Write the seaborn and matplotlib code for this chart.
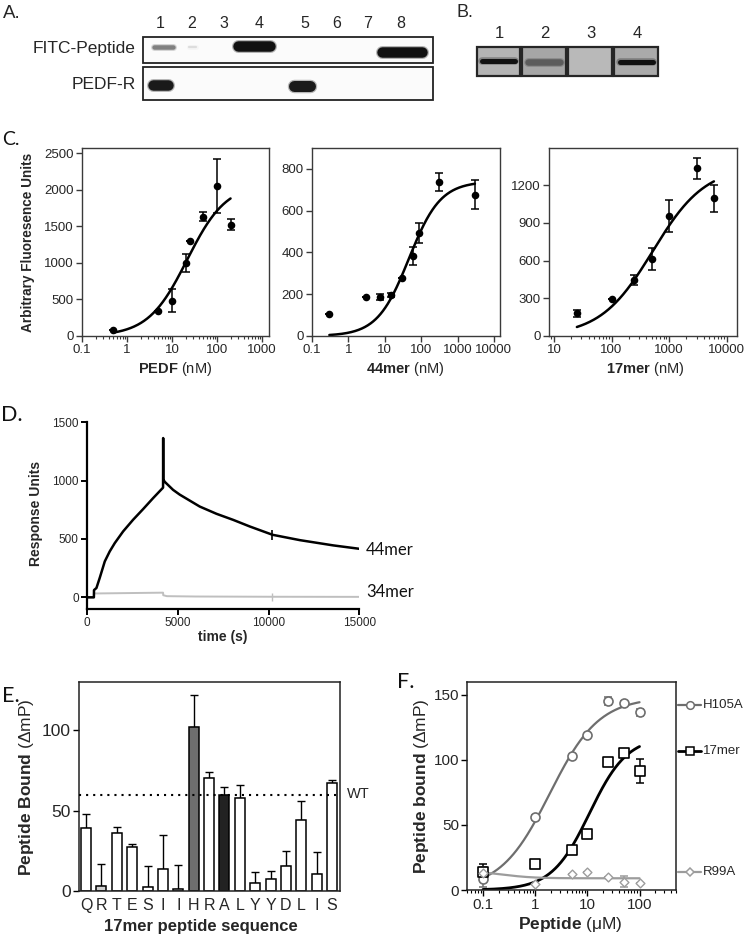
import numpy as np
import matplotlib
matplotlib.use("Agg")
import matplotlib.pyplot as plt
from matplotlib.patches import Rectangle
from matplotlib.lines import Line2D
from matplotlib.ticker import FixedLocator, LogLocator, NullFormatter, FuncFormatter
import seaborn as sns

# ------------------------------------------------------------------ data
# A / B blots
lanes_a = ["1", "2", "3", "4", "5", "6", "7", "8"]
rows_a = ["FITC-Peptide", "PEDF-R"]
lanes_b = ["1", "2", "3", "4"]

# C: binding curves (concentration nM, arbitrary fluorescence units, SEM)
pedf_conc = [0.5, 5, 10, 20, 25, 50, 100, 200]
pedf_afu = [80, 345, 485, 1000, 1295, 1630, 2050, 1520]
pedf_err = [0, 0, 155, 125, 0, 60, 370, 75]
pedf_fit = (0, 2084, 21.7, 1.0)          # bottom, top, Kd, hill

m44_conc = [0.3, 3, 7.5, 15, 30, 60, 90, 300, 3000]
m44_afu = [104, 186, 185, 197, 280, 381, 493, 736, 677]
m44_err = [0, 0, 14, 11, 0, 43, 47, 43, 69]
m44_fit = (0, 740, 46, 1.0)

m17_conc = [25, 100, 250, 500, 1000, 3000, 6000]
m17_afu = [180, 292, 445, 609, 954, 1333, 1094]
m17_err = [25, 0, 40, 88, 130, 85, 110]
m17_fit = (0, 1350, 520, 0.95)

# D: SPR sensorgram (time s, response units)
t_44mer = [0, 380, 386, 520, 700, 980, 1250, 1530, 1990, 2540, 3090, 3640, 4190,
           4196, 4202, 4283, 4742, 5110, 6210, 7130, 8050, 8970, 10220, 11730, 13570, 15000]
ru_44mer = [0, 0, 62, 80, 166, 308, 393, 465, 565, 665, 756, 850, 940,
            1365, 1010, 990, 921, 880, 778, 716, 664, 607, 536, 490, 445, 416]
t_34mer = [0, 380, 386, 4190, 4200, 4400, 6000, 10000, 15000]
ru_34mer = [0, 0, 33, 40, 18, 10, 7, 5, 4]

# E: alanine scan
seq_letters = list("QRTESIIHRALYYDLIS")
scan_vals = [39.4, 2.9, 36, 27.1, 2.1, 13.8, 1.0, 101.9, 70.4, 59.6, 57.7, 4.8, 7.3, 15.6, 44.4, 10.6, 66.9]
scan_errs = [8.5, 13.5, 4, 2, 13.5, 21, 15, 20, 3.8, 5.4, 8.5, 7, 5.2, 9.4, 11.7, 13.8, 1.9]
scan_fill = ["white", "#d0d0d0", "white", "white", "white", "white", "white", "#6e6e6e", "white",
             "#222222", "white", "white", "white", "white", "white", "white", "white"]
wt_level = 60

# F: peptide binding (uM, delta mP)
f_conc = [0.1, 1, 5, 10, 25, 50, 100]
h105a = [8.4, 55.9, 102.9, 118.7, 145.3, 143.3, 136.4]
h105a_err = [6, 2, 1, 1, 3, 2, 3]
h105a_fit = (0, 148, 1.9, 0.92)
m17b = [14, 20.3, 31, 43.2, 98.3, 105.4, 91.5]
m17b_err = [6, 1, 2, 1, 1, 2, 9.5]
m17b_fit = (0, 118, 11, 1.2)
r99a = [13, 4.6, 12, 14, 9.7, 6.4, 5.1]
r99a_err = [5, 0, 0, 0, 0, 4, 0]
r99a_fit = (14.5, 9.0, 0.25, 1.5)

# ------------------------------------------------------------------ style
sns.set_theme(style="ticks")
plt.rcParams["font.family"] = ["Liberation Sans", "DejaVu Sans"]
plt.rcParams["mathtext.fontset"] = "custom"
plt.rcParams["mathtext.rm"] = "Liberation Sans"
plt.rcParams["mathtext.bf"] = "Liberation Sans:bold"
plt.rcParams["mathtext.it"] = "Liberation Sans:italic"
plt.rcParams["mathtext.default"] = "rm"

W, H = 745, 939
fig = plt.figure(figsize=(W / 100, H / 100), dpi=100)
fig.patch.set_facecolor("white")


def px_axes(l, t, r, b, **kw):
    return fig.add_axes([l / W, 1 - b / H, (r - l) / W, (b - t) / H], **kw)


def ftext(x, y, s, **kw):
    fig.text(x / W, 1 - y / H, s, **kw)


def hill(x, bottom, top, ec50, h):
    x = np.asarray(x, dtype=float)
    return bottom + (top - bottom) / (1 + (ec50 / x) ** h)


LETTER = dict(family=["Lato", "DejaVu Sans"], color="#111111")

# ------------------------------------------------------------------ A & B (blots)
ov = fig.add_axes([0, 0, 1, 1], zorder=-5)
ov.set_xlim(0, W)
ov.set_ylim(H, 0)
ov.axis("off")


def pill(x1, x2, y, h, color, blur=0.3):
    r = h / 2
    ov.plot([x1 + r, x2 - r], [y, y], lw=(h + 2.5) * 0.72, color=color, alpha=blur,
            solid_capstyle="round")
    ov.plot([x1 + r, x2 - r], [y, y], lw=h * 0.72, color=color, solid_capstyle="round")


ftext(3, 18.5, "A.", fontsize=13.5, va="baseline", ha="left")
ov.add_patch(Rectangle((143.3, 37.3), 290, 25.4, fc="#fbfbfb", ec="#222222", lw=1.3))
ov.add_patch(Rectangle((143.3, 67.3), 290, 32.7, fc="#fbfbfb", ec="#222222", lw=1.3))
lane_x_a = [160, 192, 224, 259, 305, 337, 368, 401]
for lx, lab in zip(lane_x_a, lanes_a):
    ftext(lx, 24, lab, fontsize=11.5, ha="center", va="center")
ftext(136, 48, rows_a[0], fontsize=12.5, ha="right", va="center")
ftext(136, 84.5, rows_a[1], fontsize=12.5, ha="right", va="center")
pill(152, 175, 46.8, 4.5, "#808080")
pill(188, 197, 47, 2.2, "#dddddd", blur=0.2)
pill(213, 215, 46, 1.5, "#aaaaaa", blur=0.1)
pill(233, 275, 46, 10.5, "#111111")
pill(320, 322, 44, 1.5, "#bbbbbb", blur=0.1)
pill(377, 427, 52, 10.5, "#111111")
pill(148, 173, 85.3, 10.5, "#1a1a1a")
pill(288, 315, 85.8, 11, "#1a1a1a")

ftext(457, 17, "B.", fontsize=13, va="baseline", ha="left")
b_boxes = [(476.7, 520), (522.3, 566), (568.3, 611.7), (614, 658.3)]
b_bg = ["#b4b4b4", "#a6a6a6", "#b9b9b9", "#aaaaaa"]
for (x1, x2), bg, lab in zip(b_boxes, b_bg, lanes_b):
    ov.add_patch(Rectangle((x1, 46.7), x2 - x1, 29, fc=bg, ec="#262626", lw=1.6))
    ftext((x1 + x2) / 2 + 1, 33, lab, fontsize=12, ha="center", va="center")
pill(479, 517, 60.5, 5, "#111111")
pill(525, 563, 61.5, 6.5, "#5c5c5c", blur=0.35)
pill(617, 655, 62, 5, "#111111")

# ------------------------------------------------------------------ C
ftext(2, 145, "C.", fontsize=14, va="baseline", ha="left", **LETTER)


def fmt_g(v, p):
    return f"{v:g}"


def binding_panel(rect, conc, val, err, fit, xlim, ylim, xticks, yticks):
    ax = px_axes(*rect)
    ax.set_xscale("log")
    fx = np.logspace(np.log10(min(conc)), np.log10(max(conc)), 300)
    sns.lineplot(x=fx, y=hill(fx, *fit), ax=ax, color="black", lw=1.8, zorder=2)
    ax.errorbar(conc, val, yerr=err, fmt="none", ecolor="black", elinewidth=1.1,
                capsize=3, capthick=1.1, zorder=3)
    sns.scatterplot(x=conc, y=val, ax=ax, color="black", s=30, linewidth=0, zorder=4)
    ax.set_xlim(xlim)
    ax.set_ylim(ylim)
    ax.xaxis.set_major_locator(FixedLocator(xticks))
    ax.xaxis.set_major_formatter(FuncFormatter(fmt_g))
    ax.xaxis.set_minor_locator(LogLocator(base=10, subs=np.arange(2, 10)))
    ax.xaxis.set_minor_formatter(NullFormatter())
    ax.set_yticks(yticks)
    for s in ax.spines.values():
        s.set_color("#3a3a3a")
        s.set_linewidth(1.0)
    ax.tick_params(which="major", length=4, width=1, color="#3a3a3a", labelsize=9.5, pad=2)
    ax.tick_params(which="minor", length=2.2, width=0.8, color="#3a3a3a")
    ax.set_xlabel("")
    ax.set_ylabel("")
    return ax


binding_panel((82, 148, 269, 336), pedf_conc, pedf_afu, pedf_err, pedf_fit,
              (0.1, 1430), (0, 2570), [0.1, 1, 10, 100, 1000], [0, 500, 1000, 1500, 2000, 2500])
binding_panel((312, 148, 500, 336), m44_conc, m44_afu, m44_err, m44_fit,
              (0.1, 14700), (0, 900), [0.1, 1, 10, 100, 1000, 10000], [0, 200, 400, 600, 800])
binding_panel((549, 148, 737, 336), m17_conc, m17_afu, m17_err, m17_fit,
              (8.2, 15100), (0, 1495), [10, 100, 1000, 10000], [0, 300, 600, 900, 1200])
ftext(28, 242, "Arbitrary Fluoresence Units", fontsize=9.8, fontweight="bold",
      rotation=90, ha="center", va="center")
ftext(175, 369, r"$\mathbf{PEDF}$ (nM)", fontsize=10.5, ha="center", va="center")
ftext(405, 369, r"$\mathbf{44mer}$ (nM)", fontsize=10.5, ha="center", va="center")
ftext(645, 369, r"$\mathbf{17mer}$ (nM)", fontsize=10.5, ha="center", va="center")

# ------------------------------------------------------------------ D
ftext(1, 420.7, "D.", fontsize=15.5, va="baseline", ha="left", **LETTER)
axd = px_axes(87, 422.3, 359.3, 609)
sns.lineplot(x=t_34mer, y=ru_34mer, ax=axd, color="#bfbfbf", lw=1.4, sort=False, estimator=None)
sns.lineplot(x=t_44mer, y=ru_44mer, ax=axd, color="black", lw=1.8, sort=False, estimator=None)
axd.plot([10200], [536], marker="|", ms=7, mew=1.2, color="black")
axd.plot([10200], [6], marker="|", ms=6, mew=1.0, color="#bfbfbf")
axd.set_xlim(0, 15000)
axd.set_ylim(-100, 1500)
axd.set_xticks([0, 5000, 10000, 15000])
axd.set_yticks([0, 500, 1000, 1500])
sns.despine(ax=axd)
for s in ("left", "bottom"):
    axd.spines[s].set_linewidth(1.6)
    axd.spines[s].set_color("black")
axd.tick_params(length=4, width=1.4, color="black", labelsize=8.5, pad=2)
axd.set_xlabel("")
axd.set_ylabel("")
ftext(36, 513, "Response Units", fontsize=10, fontweight="bold", rotation=90,
      ha="center", va="center")
ftext(223, 637, "time (s)", fontsize=10, fontweight="bold", ha="center", va="center")
ftext(366, 550, "44mer", fontsize=12, ha="left", va="center", **LETTER)
ftext(366, 592, "34mer", fontsize=12, ha="left", va="center", **LETTER)

# ------------------------------------------------------------------ E
ftext(2, 701.7, "E.", fontsize=15.5, va="baseline", ha="left", **LETTER)
axe = px_axes(79, 682.3, 340, 890.7)
idx = list(range(len(scan_vals)))
sns.barplot(x=idx, y=scan_vals, hue=idx, palette=scan_fill, saturation=1, dodge=False,
            edgecolor="black", linewidth=1.1, width=0.65, legend=False, ax=axe, zorder=2)
axe.errorbar(idx, scan_vals, yerr=[np.zeros(len(scan_errs)), scan_errs], fmt="none",
             ecolor="black", elinewidth=1.0, capsize=3, capthick=1.0, zorder=1)
axe.axhline(wt_level, ls=(0, (1, 2.4)), color="black", lw=1.5, zorder=3)
axe.set_xlim(-0.46, 16.52)
axe.set_ylim(0, 130)
axe.set_yticks([0, 50, 100])
axe.set_xticks(idx)
axe.set_xticklabels(seq_letters)
axe.tick_params(axis="x", length=0, labelsize=11.5, pad=5)
axe.tick_params(axis="y", length=4, width=1, color="black", labelsize=12.5, pad=2)
for s in axe.spines.values():
    s.set_color("#222222")
    s.set_linewidth(1.1)
axe.set_xlabel("")
axe.set_ylabel("")
ftext(347, 794, "WT", fontsize=10.5, ha="left", va="center")
ftext(27, 787, r"$\mathbf{Peptide\ Bound}$ (ΔmP)", fontsize=12.5, rotation=90,
      ha="center", va="center")
ftext(201, 927, "17mer peptide sequence", fontsize=12, fontweight="bold",
      ha="center", va="center")

# ------------------------------------------------------------------ F
ftext(397, 688.3, "F.", fontsize=15.5, va="baseline", ha="left", **LETTER)
axf = px_axes(467.3, 681.7, 676, 890)
axf.set_xscale("log")
fx = np.logspace(np.log10(min(f_conc)), np.log10(max(f_conc)), 300)
series_f = [
    (h105a, h105a_err, h105a_fit, "#6e6e6e", "o", 42, 1.2, 1.6),
    (m17b, m17b_err, m17b_fit, "black", "s", 46, 1.2, 2.0),
    (r99a, r99a_err, r99a_fit, "#9c9c9c", "D", 20, 1.0, 1.6),
]
for vals, errs, fit, col, mk, size, mew, lw in series_f:
    sns.lineplot(x=fx, y=hill(fx, *fit), ax=axf, color=col, lw=lw, zorder=2)
for vals, errs, fit, col, mk, size, mew, lw in series_f:
    axf.errorbar(f_conc, vals, yerr=errs, fmt="none", ecolor=col, elinewidth=1.1,
                 capsize=3, capthick=1.1, zorder=3)
    sns.scatterplot(x=f_conc, y=vals, ax=axf, marker=mk, s=size, color="white",
                    edgecolor=col, linewidth=mew, zorder=4)
axf.set_xlim(0.05, 500)
axf.set_ylim(0, 160)
axf.xaxis.set_major_locator(FixedLocator([0.1, 1, 10, 100]))
axf.xaxis.set_major_formatter(FuncFormatter(fmt_g))
axf.xaxis.set_minor_locator(LogLocator(base=10, subs=np.arange(2, 10)))
axf.xaxis.set_minor_formatter(NullFormatter())
axf.set_yticks([0, 50, 100, 150])
for s in axf.spines.values():
    s.set_color("#222222")
    s.set_linewidth(1.1)
axf.tick_params(which="major", length=4, width=1, color="black", labelsize=11, pad=2)
axf.tick_params(which="minor", length=2.2, width=0.8, color="black")
axf.set_xlabel("")
axf.set_ylabel("")
ftext(421.7, 786, r"$\mathbf{Peptide\ bound}$ (ΔmP)", fontsize=12.5, rotation=90,
      ha="center", va="center")
ftext(570, 925, r"$\mathbf{Peptide}$ (μM)", fontsize=12.5, ha="center", va="center")

legend_f = [("H105A", 705, "#6e6e6e", "o", 5.5), ("17mer", 750.7, "black", "s", 6),
            ("R99A", 872.3, "#9c9c9c", "D", 4.2)]
for lab, y, col, mk, ms in legend_f:
    fig.add_artist(Line2D([678 / W, 701 / W], [1 - y / H, 1 - y / H], color=col,
                          lw=1.6 if col != "black" else 2.0, marker=None))
    fig.add_artist(Line2D([690 / W], [1 - y / H], color=col, marker=mk, ms=ms,
                          mfc="white", mec=col, mew=1.1, lw=0))
    ftext(703, y, lab, fontsize=9.5, ha="left", va="center")

fig.savefig("out.png", dpi=100, facecolor="white")
